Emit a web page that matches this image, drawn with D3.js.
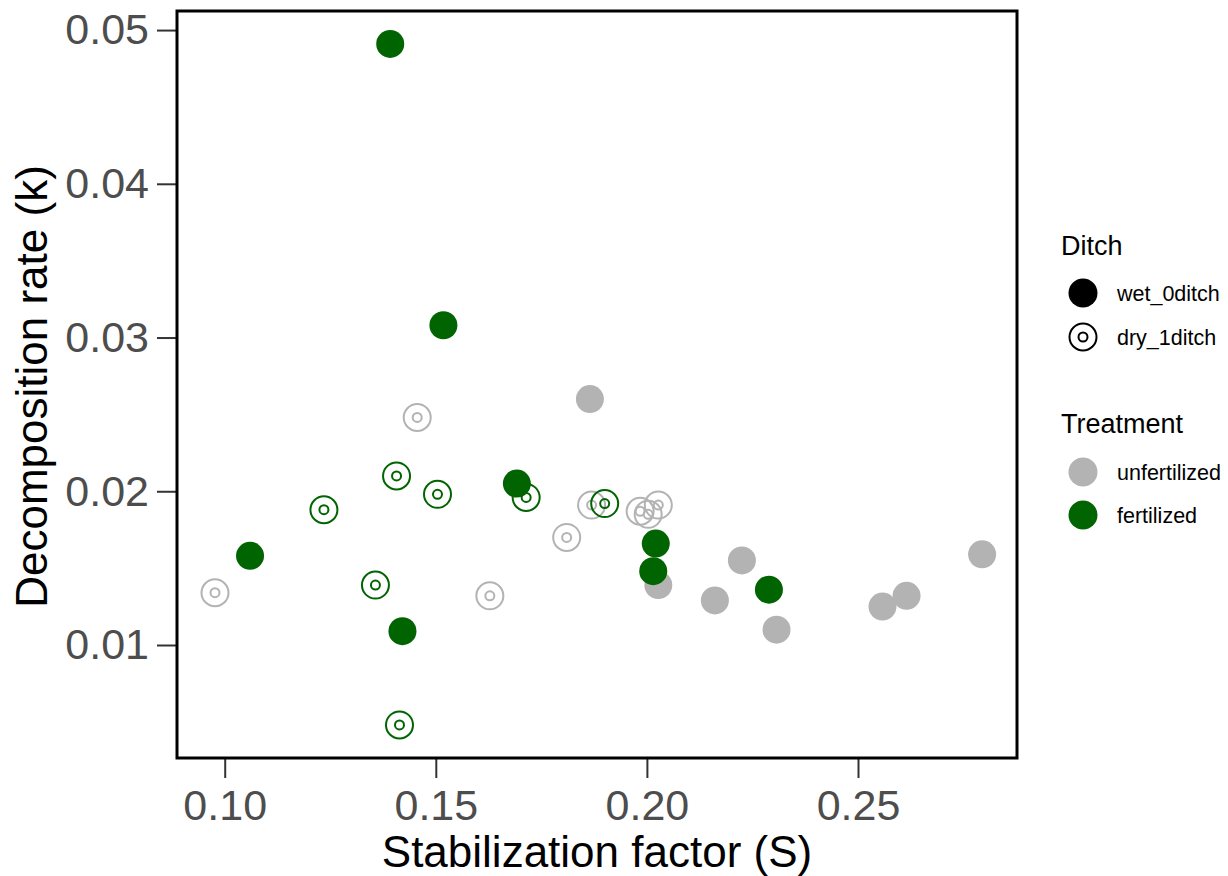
<!DOCTYPE html>
<html>
<head>
<meta charset="utf-8">
<script src="https://cdn.jsdelivr.net/npm/d3@7"></script>
<style>
  body { margin: 0; background: #fff; }
  text { font-family: "Liberation Sans", Arial, sans-serif; }
</style>
</head>
<body>
<div id="chart"></div>
<script>
// wet_0ditch (filled dots)
var wetFert = [[0.1392,0.0491],[0.1518,0.0308],[0.1692,0.0205],[0.1060,0.0158],[0.1421,0.0109],[0.2021,0.0166],[0.2015,0.0148],[0.2289,0.0136]];
var wetUnfert = [[0.1865,0.0260],[0.2027,0.0139],[0.2225,0.0155],[0.2161,0.0129],[0.2307,0.0110],[0.2558,0.0125],[0.2615,0.0132],[0.2794,0.0159]];
// dry_1ditch (ring symbols)
var dryFert = [[0.1407,0.0210],[0.1504,0.0198],[0.1714,0.0196],[0.1235,0.0188],[0.1357,0.0139],[0.1414,0.0048],[0.1900,0.0192]];
var dryUnfert = [[0.1456,0.0248],[0.1810,0.0170],[0.0977,0.0134],[0.1628,0.0132],[0.1869,0.0191],[0.1984,0.0187],[0.2003,0.0185],[0.2027,0.0191]];

var xTicks = [0.10, 0.15, 0.20, 0.25];
var yTicks = [0.01, 0.02, 0.03, 0.04, 0.05];
var ditchLabels = ["wet_0ditch", "dry_1ditch"];
var treatLabels = ["unfertilized", "fertilized"];

var colors = {unfertilized: "#b3b3b3", fertilized: "#006400"};

var width = 1228, height = 876;
var panel = {left: 177, right: 1017, top: 11, bottom: 758};

var svg = d3.select("#chart").append("svg")
  .attr("width", width)
  .attr("height", height);

var x = d3.scaleLinear().domain([0.0887, 0.28766]).range([panel.left, panel.right]);
var y = d3.scaleLinear().domain([0.00265, 0.05124]).range([panel.bottom, panel.top]);

// axes
var xAxis = svg.append("g")
  .attr("transform", "translate(0," + panel.bottom + ")")
  .call(d3.axisBottom(x).tickValues(xTicks).tickFormat(d3.format(".2f")).tickSize(20).tickPadding(11));
var yAxis = svg.append("g")
  .attr("transform", "translate(" + panel.left + ",0)")
  .call(d3.axisLeft(y).tickValues(yTicks).tickFormat(d3.format(".2f")).tickSize(20).tickPadding(8));

[xAxis, yAxis].forEach(function(a){
  a.select(".domain").remove();
  a.selectAll(".tick line").attr("stroke", "#333333").attr("stroke-width", 2);
  a.selectAll(".tick text")
    .attr("fill", "#4d4d4d")
    .style("font-size", "43px");
});
xAxis.selectAll(".tick text").attr("dy", "0.71em");

// points
function filled(data, col){
  svg.append("g").selectAll("circle").data(data).enter().append("circle")
    .attr("cx", function(d){ return x(d[0]); })
    .attr("cy", function(d){ return y(d[1]); })
    .attr("r", 14)
    .attr("fill", col);
}
function ring(data, col){
  var g = svg.append("g").selectAll("g").data(data).enter().append("g")
    .attr("transform", function(d){ return "translate(" + x(d[0]) + "," + y(d[1]) + ")"; });
  g.append("circle").attr("r", 13.5).attr("fill", "none").attr("stroke", col).attr("stroke-width", 2);
  g.append("circle").attr("r", 4.5).attr("fill", "none").attr("stroke", col).attr("stroke-width", 2);
}
filled(wetUnfert, colors.unfertilized);
filled(wetFert, colors.fertilized);
ring(dryUnfert, colors.unfertilized);
ring(dryFert, colors.fertilized);

// panel border
svg.append("rect")
  .attr("x", panel.left).attr("y", panel.top)
  .attr("width", panel.right - panel.left).attr("height", panel.bottom - panel.top)
  .attr("fill", "none").attr("stroke", "#000").attr("stroke-width", 3);

// axis titles
svg.append("text")
  .attr("x", (panel.left + panel.right) / 2)
  .attr("y", 867)
  .style("text-anchor", "middle")
  .style("font-size", "44px")
  .text("Stabilization factor (S)");

svg.append("text")
  .attr("transform", "rotate(-90)")
  .attr("x", -(panel.top + panel.bottom) / 2 - 2)
  .attr("y", 47)
  .style("text-anchor", "middle")
  .style("font-size", "44px")
  .text("Decomposition rate (k)");

// legends
var lx = 1083, tx = 1117;
svg.append("text").attr("x", 1061).attr("y", 255).style("font-size", "27px").text("Ditch");
var ditchY = [293, 337];
svg.append("circle").attr("cx", lx).attr("cy", ditchY[0]).attr("r", 14.5).attr("fill", "#000");
svg.append("circle").attr("cx", lx).attr("cy", ditchY[1]).attr("r", 13.5).attr("fill", "none").attr("stroke", "#000").attr("stroke-width", 2);
svg.append("circle").attr("cx", lx).attr("cy", ditchY[1]).attr("r", 4.5).attr("fill", "none").attr("stroke", "#000").attr("stroke-width", 2);
ditchLabels.forEach(function(l, i){
  svg.append("text").attr("x", tx).attr("y", ditchY[i]).attr("dy", "0.35em").style("font-size", "21.5px").text(l);
});

svg.append("text").attr("x", 1061).attr("y", 433).style("font-size", "27px").text("Treatment");
var treatY = [472, 515];
treatLabels.forEach(function(l, i){
  svg.append("circle").attr("cx", lx).attr("cy", treatY[i]).attr("r", 14.5).attr("fill", colors[l]);
  svg.append("text").attr("x", tx).attr("y", treatY[i]).attr("dy", "0.35em").style("font-size", "21.5px").text(l);
});
</script>
</body>
</html>
